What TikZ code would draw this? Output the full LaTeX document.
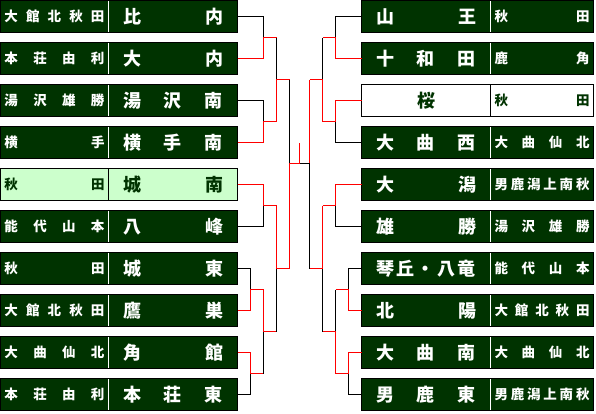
\documentclass[tikz,border=0pt]{standalone}
\usepackage{fontspec}
\newfontfamily\jp{Noto Sans CJK JP}
\usetikzlibrary{positioning}
\definecolor{dgreen}{HTML}{003300}
\definecolor{lgreen}{HTML}{CCFFCC}
% spread the characters of a name over the whole cell
\newcommand\spread[1]{\spreadloop#1\relax}
\def\spreadloop#1#2{#1\ifx\relax#2\else\hfill\expandafter\spreadloop\expandafter#2\fi}

\begin{document}
\begin{tikzpicture}[
    x=1pt, y=-1pt,
    cell/.style={draw, line width=1pt, outer sep=0pt, inner sep=0pt, fill=dgreen, text=white, minimum height=32pt, anchor=north west},
    reg/.style={cell, minimum width=108pt, text width=100pt, font=\jp\bfseries\fontsize{13.5}{14}\selectfont},
    rreg/.style={reg, minimum width=103pt, text width=95pt},
    sch/.style={cell, minimum width=129pt, text width=100pt, font=\jp\bfseries\fontsize{18}{20}\selectfont},
    wsep/.style={append after command={(\tikzlastnode.north west) edge[draw=white, line width=1pt, shorten <=0.5pt, shorten >=0.5pt] (\tikzlastnode.south west)}},
    lite/.style={fill=lgreen, text=dgreen},
    blank/.style={fill=white, text=dgreen},
    lose/.style={draw=black, line width=1pt},
    win/.style={draw=red, line width=1pt}
]
\useasboundingbox (0,0) rectangle (596,413);

% Left teams
\node[reg] (lr1) at (0.5,0.5) {\spread{大館北秋田}};
\node[sch, wsep, right=0pt of lr1] (ls1) {\spread{比内}};
\node[reg] (lr2) at (0.5,42.5) {\spread{本荘由利}};
\node[sch, wsep, right=0pt of lr2] (ls2) {\spread{大内}};
\node[reg] (lr3) at (0.5,84.5) {\spread{湯沢雄勝}};
\node[sch, wsep, right=0pt of lr3] (ls3) {\spread{湯沢南}};
\node[reg] (lr4) at (0.5,126.5) {\spread{横手}};
\node[sch, wsep, right=0pt of lr4] (ls4) {\spread{横手南}};
\node[reg, lite] (lr5) at (0.5,168.5) {\spread{秋田}};
\node[sch, lite, right=0pt of lr5] (ls5) {\spread{城南}};
\node[reg] (lr6) at (0.5,210.5) {\spread{能代山本}};
\node[sch, wsep, right=0pt of lr6] (ls6) {\spread{八峰}};
\node[reg] (lr7) at (0.5,252.5) {\spread{秋田}};
\node[sch, wsep, right=0pt of lr7] (ls7) {\spread{城東}};
\node[reg] (lr8) at (0.5,294.5) {\spread{大館北秋田}};
\node[sch, wsep, right=0pt of lr8] (ls8) {\spread{鷹巣}};
\node[reg] (lr9) at (0.5,336.5) {\spread{大曲仙北}};
\node[sch, wsep, right=0pt of lr9] (ls9) {\spread{角館}};
\node[reg] (lr10) at (0.5,378.5) {\spread{本荘由利}};
\node[sch, wsep, right=0pt of lr10] (ls10) {\spread{本荘東}};

% Right teams
\node[sch] (rs1) at (361.5,0.5) {\spread{山王}};
\node[rreg, wsep, right=0pt of rs1] (rr1) {\spread{秋田}};
\node[sch] (rs2) at (361.5,42.5) {\spread{十和田}};
\node[rreg, wsep, right=0pt of rs2] (rr2) {\spread{鹿角}};
\node[sch, blank] (rs3) at (361.5,84.5) {\hfill 桜\hfill\mbox{}};
\node[rreg, blank, right=0pt of rs3] (rr3) {\spread{秋田}};
\node[sch] (rs4) at (361.5,126.5) {\spread{大曲西}};
\node[rreg, wsep, right=0pt of rs4] (rr4) {\spread{大曲仙北}};
\node[sch] (rs5) at (361.5,168.5) {\spread{大潟}};
\node[rreg, wsep, right=0pt of rs5] (rr5) {\spread{男鹿潟上南秋}};
\node[sch] (rs6) at (361.5,210.5) {\spread{雄勝}};
\node[rreg, wsep, right=0pt of rs6] (rr6) {\spread{湯沢雄勝}};
\node[sch] (rs7) at (361.5,252.5) {\spread{琴丘・八竜}};
\node[rreg, wsep, right=0pt of rs7] (rr7) {\spread{能代山本}};
\node[sch] (rs8) at (361.5,294.5) {\spread{北陽}};
\node[rreg, wsep, right=0pt of rs8] (rr8) {\spread{大館北秋田}};
\node[sch] (rs9) at (361.5,336.5) {\spread{大曲南}};
\node[rreg, wsep, right=0pt of rs9] (rr9) {\spread{大曲仙北}};
\node[sch] (rs10) at (361.5,378.5) {\spread{男鹿東}};
\node[rreg, wsep, right=0pt of rs10] (rr10) {\spread{男鹿潟上南秋}};

% Junctions
\coordinate (lA) at (263.8,37.5);
\coordinate (lB) at (263.8,121.5);
\coordinate (lC) at (263.8,205.5);
\coordinate (lD) at (250.8,289.5);
\coordinate (lE) at (250.8,373.5);
\coordinate (lF) at (276.8,79.5);
\coordinate (lH) at (263.8,331.5);
\coordinate (lG) at (276.8,268.5);
\coordinate (lJ) at (289.8,163.5);
\coordinate (rA) at (335.8,37.5);
\coordinate (rB) at (335.8,121.5);
\coordinate (rC) at (335.8,205.5);
\coordinate (rD) at (348.8,289.5);
\coordinate (rE) at (348.8,373.5);
\coordinate (rF) at (322.8,79.5);
\coordinate (rH) at (335.8,331.5);
\coordinate (rG) at (322.8,268.5);
\coordinate (rJ) at (309.8,163.5);
\coordinate (ctr) at (299.8,163.5);
\coordinate (champ) at (299.8,142.5);

% Left bracket
\draw[lose] (ls1.east) -| (lA);
\draw[win] (ls2.east) -| (lA) -- (lA -| lF);
\draw[lose] (ls3.east) -| (lB);
\draw[win] (ls4.east) -| (lB) -- (lB -| lF);
\draw[win] (ls5.east) -| (lC) -- (lC -| lG);
\draw[lose] (ls6.east) -| (lC);
\draw[lose] (ls7.east) -| (lD);
\draw[win] (ls8.east) -| (lD) -- (lD -| lH);
\draw[win] (ls9.east) -| (lE) -- (lE -| lH);
\draw[lose] (ls10.east) -| (lE);
\draw[lose] (lA -| lF) -- (lF);
\draw[win] (lB -| lF) -- (lF) -- (lF -| lJ);
\draw[win] (lD -| lH) -- (lH) -- (lH -| lG);
\draw[lose] (lE -| lH) -- (lH);
\draw[win] (lC -| lG) -- (lG) -- (lG -| lJ);
\draw[lose] (lH -| lG) -- (lG);
\draw[lose] (lF -| lJ) -- (lJ);
\draw[win] (lG -| lJ) -- (lJ) -- (ctr) -- (champ);

% Right bracket
\draw[lose] (rs1.west) -| (rA);
\draw[win] (rs2.west) -| (rA) -- (rA -| rF);
\draw[win] (rs3.west) -| (rB) -- (rB -| rF);
\draw[lose] (rs4.west) -| (rB);
\draw[win] (rs5.west) -| (rC) -- (rC -| rG);
\draw[lose] (rs6.west) -| (rC);
\draw[lose] (rs7.west) -| (rD);
\draw[win] (rs8.west) -| (rD) -- (rD -| rH);
\draw[win] (rs9.west) -| (rE) -- (rE -| rH);
\draw[lose] (rs10.west) -| (rE);
\draw[lose] (rA -| rF) -- (rF);
\draw[win] (rB -| rF) -- (rF) -- (rF -| rJ);
\draw[lose] (rD -| rH) -- (rH);
\draw[win] (rE -| rH) -- (rH) -- (rH -| rG);
\draw[win] (rC -| rG) -- (rG) -- (rG -| rJ);
\draw[lose] (rH -| rG) -- (rG);
\draw[win] (rF -| rJ) -- (rJ);
\draw[lose] (rG -| rJ) -- (rJ) -- (ctr);

\end{tikzpicture}
\end{document}
